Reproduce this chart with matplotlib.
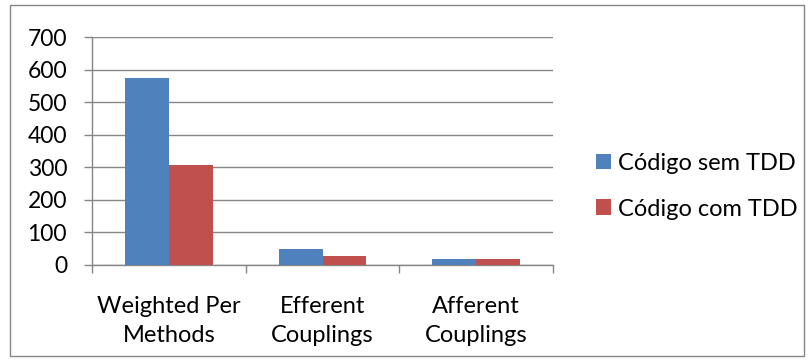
import matplotlib.pyplot as plt
import numpy as np
from matplotlib.patches import Rectangle

plt.rcParams['font.family'] = ['Lato', 'DejaVu Sans']

categories = ['Weighted Per\nMethods', 'Efferent\nCouplings', 'Afferent\nCouplings']
sem_tdd = [575, 48, 19]
com_tdd = [306, 28, 18]
series_names = ['Código sem TDD', 'Código com TDD']
colors = ['#4F81BD', '#C0504D']
yticks = [0, 100, 200, 300, 400, 500, 600, 700]

fig = plt.figure(figsize=(8.1, 3.6), dpi=100)
ax = fig.add_axes([0.1136, 0.2639, 0.5691, 0.6333])

x = np.arange(len(categories))
w = 0.2857
ax.bar(x - w / 2, sem_tdd, w, color=colors[0], label=series_names[0], zorder=3)
ax.bar(x + w / 2, com_tdd, w, color=colors[1], label=series_names[1], zorder=3)

ax.set_xlim(-0.5, len(categories) - 0.5)
ax.set_ylim(0, 700)
ax.set_yticks(yticks)
ax.set_yticklabels([str(v) for v in yticks])
ax.yaxis.grid(True, color='#868686', linewidth=1, zorder=0)
ax.set_xticks(np.arange(len(categories) + 1) - 0.5)
ax.set_xticklabels([])
ax.set_xticks(x, minor=True)
ax.set_xticklabels(categories, minor=True, fontsize=17, linespacing=1.5)
ax.tick_params(axis='x', which='minor', length=0, pad=22)
ax.tick_params(axis='x', which='major', length=6, color='#868686', width=1)
ax.tick_params(axis='y', length=6, color='#868686', width=1, labelsize=16.5, pad=12)

for s in ['top', 'right']:
    ax.spines[s].set_visible(False)
for s in ['left', 'bottom']:
    ax.spines[s].set_color('#868686')
    ax.spines[s].set_linewidth(1)

leg = fig.legend(loc='center left', bbox_to_anchor=(0.736, 0.483), frameon=False,
                 fontsize=17, handlelength=0.64, handleheight=0.64,
                 handletextpad=0.3, labelspacing=1.05,
                 borderpad=0, borderaxespad=0)

fig.patches.append(Rectangle((0.012, 0.01), 0.98, 0.975, transform=fig.transFigure,
                             fill=False, edgecolor='#868686', linewidth=1))

fig.savefig('out.png', dpi=100)
